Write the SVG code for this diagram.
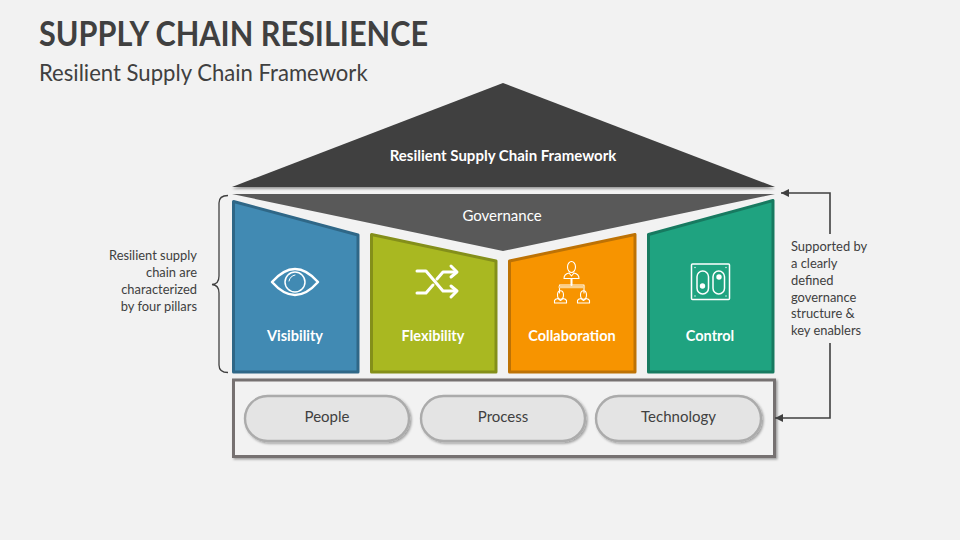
<svg xmlns="http://www.w3.org/2000/svg" width="960" height="540" viewBox="0 0 960 540">
<style>
text{font-family:"Lato","Liberation Sans",sans-serif}
.w{fill:#fff;font-weight:700;font-size:14.5px;text-anchor:middle}
.n{fill:#404040;font-size:12.9px}
.p{fill:#404040;font-size:15px;text-anchor:middle}
.i{fill:none;stroke:#fff;stroke-linejoin:round;stroke-linecap:round}
.pill{fill:#e4e4e4;stroke:#ababab;stroke-width:2.4;filter:url(#s)}
.c{fill:none;stroke:#404040;stroke-width:1.6}
</style>
<defs>
<filter id="s" x="-10%" y="-20%" width="125%" height="150%"><feDropShadow dx="1.5" dy="1.5" stdDeviation="1.2" flood-color="#000" flood-opacity=".35"/></filter>
<filter id="r" x="-5%" y="-5%" width="110%" height="112%"><feDropShadow dx="0" dy="2" stdDeviation="1.200" flood-color="#000" flood-opacity=".35"/></filter>
<marker id="a" markerUnits="userSpaceOnUse" markerWidth="9" markerHeight="8" refX="8" refY="4" orient="auto"><path d="M0 0L8 4L0 8z" fill="#404040"/></marker>
</defs>
<rect width="960" height="540" fill="#f2f2f2"/>
<text x="39" y="46" font-size="34.5" font-weight="700" fill="#404040" textLength="389" lengthAdjust="spacingAndGlyphs">SUPPLY CHAIN RESILIENCE</text>
<text x="39" y="81" font-size="22.1" fill="#404040">Resilient Supply Chain Framework</text>
<g id="roof"><path d="M232 187L503 83L775 187z" fill="#404040" filter="url(#r)"/><text class="w" x="503" y="161" style="font-size:15px">Resilient Supply Chain Framework</text></g>
<g id="governance"><path d="M232 194H775L503 251z" fill="#595959"/><text class="w" x="502" y="221" style="font-weight:400;font-size:15px">Governance</text></g>
<g id="visibility"><path d="M233.500 201.500L358 235V372H233.500z" fill="#418ab3" stroke="#2f6787" stroke-width="3" stroke-linejoin="round"/>
<g class="i" stroke-width="2.500"><path d="M272 282Q295 256 318 282Q295 308 272 282z"/><circle cx="295" cy="282" r="10" stroke-width="1.500"/><path d="M289 281Q290 276 295 275" stroke-width="1"/></g>
<text class="w" x="295" y="341">Visibility</text></g>
<g id="flexibility"><path d="M371.500 234.500L496 261V372H371.500z" fill="#a9b821" stroke="#848f1a" stroke-width="3" stroke-linejoin="round"/>
<g class="i" stroke-width="3"><path d="M417 271H426L443 291H455"/><path d="M417 293H426L433 285M437 279L443 272H455"/><path d="M451 266L457 272L451 277"/><path d="M451 286L457 291L451 297"/></g>
<text class="w" x="433" y="341">Flexibility</text></g>
<g id="collaboration"><path d="M509.500 261L635 234.500V372H509.500z" fill="#f79400" stroke="#bd7205" stroke-width="3" stroke-linejoin="round"/>
<g class="i" stroke-width="1.100"><ellipse cx="571.500" cy="267" rx="4" ry="5.500"/><path d="M564 278.500Q564 274 569 273L571.500 276L574 273Q579 274 579 278.500z"/>
<path d="M559.500 293V285H584V293"/><path d="M559.500 287H584" stroke-width="2.400" stroke="#fbd28f"/><path d="M571.500 279V285" stroke-width="2"/>
<ellipse cx="560.500" cy="295" rx="3" ry="4.200"/><path d="M554.500 303V300.500Q555 299 558 298.500L560.500 300.500L563 298.500Q566 299 566.500 300.500V303z"/>
<ellipse cx="583.500" cy="295" rx="3" ry="4.200"/><path d="M577.500 303V300.500Q578 299 581 298.500L583.500 300.500L586 298.500Q589 299 589.500 300.500V303z"/></g>
<text class="w" x="572" y="341">Collaboration</text></g>
<g id="control"><path d="M648.500 234.500L773 200.500V372H648.500z" fill="#1fa380" stroke="#177a60" stroke-width="3" stroke-linejoin="round"/>
<g class="i" stroke-width="1.500"><rect x="691.500" y="264" width="38" height="35.500" rx="1"/><rect x="697" y="271" width="11.500" height="23" rx="5.700"/><rect x="713" y="271" width="11.500" height="23" rx="5.700"/></g>
<circle cx="702.500" cy="286" r="2.700" fill="#fff"/><circle cx="719" cy="277" r="2.700" fill="#fff"/>
<g fill="#fff"><circle cx="695" cy="267.500" r=".7"/><circle cx="726" cy="267.500" r=".7"/><circle cx="695" cy="296" r=".7"/><circle cx="726" cy="296" r=".7"/></g>
<text class="w" x="710" y="341">Control</text></g>
<g id="enablers"><rect x="233.500" y="380" width="541" height="76.500" fill="#f2f2f2" stroke="#767171" stroke-width="3" filter="url(#s)"/></g>
<g id="people"><rect class="pill" x="245" y="396" width="164" height="45" rx="22.500"/><text class="p" x="327" y="422">People</text></g>
<g id="process"><rect class="pill" x="421" y="396" width="164" height="45" rx="22.500"/><text class="p" x="503" y="422">Process</text></g>
<g id="technology"><rect class="pill" x="596" y="396" width="165" height="45" rx="22.500"/><text class="p" x="678.500" y="422">Technology</text></g>
<g id="connectors">
<path class="c" d="M830 234V193H781" marker-end="url(#a)"/>
<path class="c" d="M830 343V418H775" marker-end="url(#a)"/>
<path d="M228 195.500Q219 195.500 219 203V276Q219 284 212 284.500Q219 285 219 293V365Q219 372.500 228 372.500" fill="none" stroke="#404040" stroke-width="1.300"/>
</g>
<g id="note-left" class="n" text-anchor="end"><text x="197" y="260">Resilient supply</text><text x="197" y="277">chain are</text><text x="197" y="294">characterized</text><text x="197" y="311">by four pillars</text></g>
<g id="note-right" class="n"><text x="791" y="251">Supported by</text><text x="791" y="268">a clearly</text><text x="791" y="285">defined</text><text x="791" y="302">governance</text><text x="791" y="318">structure &amp;</text><text x="791" y="335">key enablers</text></g>
</svg>
